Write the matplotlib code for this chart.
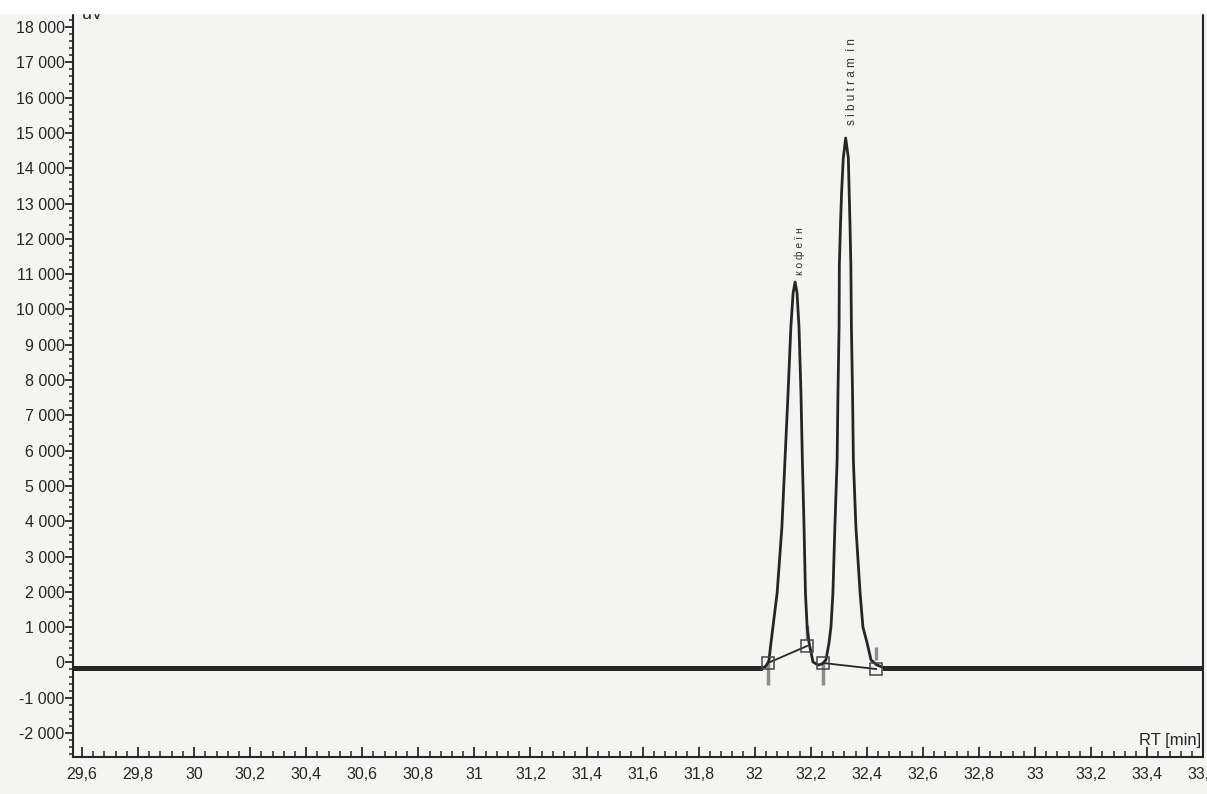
import matplotlib
matplotlib.use('Agg')
import matplotlib.pyplot as plt
from matplotlib.patches import Rectangle
from matplotlib.ticker import MultipleLocator, FuncFormatter

plt.rcParams['font.family'] = ['Liberation Sans', 'DejaVu Sans']

# chromatogram trace (RT in min, signal in uV)
rt = [29.568, 32.019, 32.037, 32.047, 32.051, 32.058, 32.065, 32.080, 32.097,
      32.108, 32.119, 32.129, 32.137, 32.144, 32.151, 32.158, 32.165, 32.170,
      32.176, 32.181, 32.187, 32.194, 32.208, 32.226, 32.240, 32.254, 32.265,
      32.272, 32.279, 32.286, 32.294, 32.297, 32.301, 32.302, 32.306, 32.310,
      32.316, 32.3245, 32.334, 32.337, 32.340, 32.343, 32.345, 32.349, 32.352,
      32.361, 32.376, 32.386, 32.401, 32.415, 32.436, 32.465, 33.6]
signal = [-158, -158, -130, -17, 68, 550, 1003, 1966, 3836,
          5734, 7632, 9502, 10465, 10777, 10465, 9502, 7632, 5734,
          3836, 1966, 1003, 550, 11, -74, -45, 68, 550,
          1003, 1966, 3836, 5734, 7632, 9502, 11258, 12392, 13326,
          14290, 14857, 14290, 13326, 12392, 11258, 9502, 7632, 5734,
          3836, 1966, 1003, 550, 68, -74, -158, -158]

# integration start/end markers
mark_rt = [32.047, 32.187, 32.244, 32.433]
mark_sig = [-17, 465, -17, -187]
mark_tick_lo = [-640, 635, -640, 68]
mark_tick_hi = [-17, 1060, -17, 436]

# peak names
peak_names = ['к о ф е ї н', 's i b u t r a m  i n']
peak_rt = [32.162, 32.347]
peak_label_y = [10975, 15225]
peak_label_size = [7.5, 8.5]

ink = '#262626'
paper = '#f4f4f2'

fig = plt.figure(figsize=(12.07, 7.94), dpi=100, facecolor=paper)
ax = fig.add_axes([73 / 1207, 37 / 794, (1203.2 - 73) / 1207, (757 - 13) / 794])
ax.set_facecolor(paper)

ax.plot(rt, signal, color=ink, lw=2.0, zorder=3)
ax.plot(rt[:2], signal[:2], color=ink, lw=3.6, zorder=3)
ax.plot(rt[-2:], signal[-2:], color=ink, lw=3.6, zorder=3)

ax.vlines(mark_rt, mark_tick_lo, mark_tick_hi, color='#8c8c8c', lw=2.5, zorder=2)
ax.plot(mark_rt[:2], mark_sig[:2], color=ink, lw=1.3, zorder=4)
ax.plot(mark_rt[2:], mark_sig[2:], color=ink, lw=1.3, zorder=4)
ax.plot(mark_rt, mark_sig, ls='none', marker='s', ms=8, mfc='none', mec='#444444', mew=1.1, zorder=5)

for name, x, y, fs in zip(peak_names, peak_rt, peak_label_y, peak_label_size):
    ax.text(x, y, name, rotation=90, ha='center', va='bottom', fontsize=fs, color='#333333')

ax.set_xlim(29.568, 33.6)
ax.set_ylim(-2680, 18398)

ax.xaxis.set_major_locator(MultipleLocator(0.2))
ax.xaxis.set_minor_locator(MultipleLocator(0.04))
ax.yaxis.set_major_locator(MultipleLocator(1000))
ax.yaxis.set_minor_locator(MultipleLocator(200))
ax.xaxis.set_major_formatter(FuncFormatter(lambda v, p: f"{round(v, 1):g}".replace('.', ',')))
ax.yaxis.set_major_formatter(FuncFormatter(lambda v, p: f"{int(round(v)):,}".replace(',', ' ')))

ax.tick_params(axis='x', which='both', direction='in', colors=ink, labelsize=11.5, pad=7)
ax.tick_params(axis='x', which='major', length=7, width=1.3)
ax.tick_params(axis='x', which='minor', length=4, width=1.1)
ax.tick_params(axis='y', which='both', direction='out', colors=ink, labelsize=11.5, pad=0)
ax.tick_params(axis='y', which='major', length=6, width=1.3)
ax.tick_params(axis='y', which='minor', length=3, width=1.1)

ax.spines['top'].set_visible(False)
for s in ['left', 'bottom', 'right']:
    ax.spines[s].set_color(ink)
    ax.spines[s].set_linewidth(1.5)

ax.text(0.998, 0.012, 'RT [min]', transform=ax.transAxes, ha='right', va='bottom',
        fontsize=12, color=ink)

fig.text(82 / 1207, 1 - 19 / 794, 'uV', fontsize=13, color=ink, va='baseline', zorder=1)
fig.add_artist(Rectangle((0, 1 - 13 / 794), 1, 13 / 794, transform=fig.transFigure,
                         color='white', zorder=10))

fig.savefig('out.png', dpi=100, facecolor=paper)
